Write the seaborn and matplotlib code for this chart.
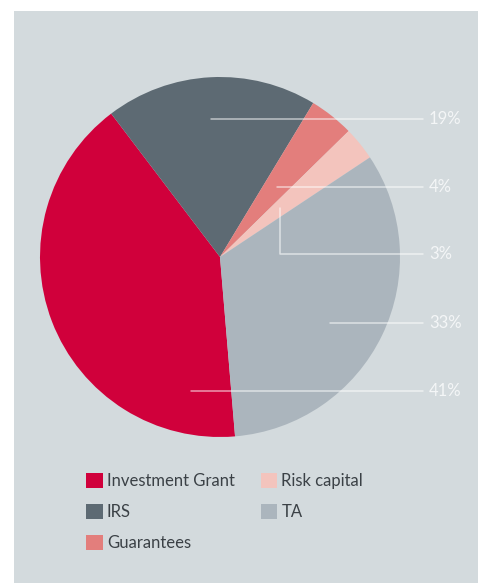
import matplotlib
matplotlib.use("Agg")
import matplotlib.pyplot as plt
from matplotlib.patches import Patch
import seaborn as sns

# Share of funding by instrument (%)
categories = ["Investment Grant", "IRS", "Guarantees", "Risk capital", "TA"]
shares = [41, 19, 4, 3, 33]
colors = ["#d0003b", "#5d6a73", "#e37e7c", "#f3c4bd", "#abb5bd"]

sns.set_theme(style="white")
plt.rcParams["font.family"] = ["Lato", "DejaVu Sans"]

W, H = 478, 583
fig = plt.figure(figsize=(W / 100, H / 100), dpi=100)
fig.patch.set_facecolor("white")

# Grey panel behind everything
bg = fig.add_axes([14 / W, 0, 1 - 14 / W, 1 - 11 / H], zorder=-10)
bg.set_facecolor("#d3dadd")
bg.set_xticks([])
bg.set_yticks([])
for s in bg.spines.values():
    s.set_visible(False)

# Pie axes: centre (220, 257) px, radius 180 px
cx, cy, r = 220, 257, 180
ax = fig.add_axes([(cx - r) / W, (H - cy - r) / H, 2 * r / W, 2 * r / H], zorder=1)
ax.set_facecolor("none")
palette = sns.color_palette(colors)
wedges, _ = ax.pie(shares, colors=palette, startangle=274.8, counterclock=False,
                   radius=1, wedgeprops=dict(linewidth=0))
ax.set_xlim(-1, 1)
ax.set_ylim(-1, 1)
ax.set_aspect("equal")
ax.axis("off")

# Leader lines and percentage labels (pixel layout, top-left origin)
line_end_x = 423
leaders = [
    (shares[1], [(211, 118.5), (line_end_x, 118.5)]),
    (shares[2], [(277, 186.5), (line_end_x, 186.5)]),
    (shares[3], [(280, 208), (280, 254), (line_end_x, 254)]),
    (shares[4], [(330, 322.5), (line_end_x, 322.5)]),
    (shares[0], [(191, 390.5), (line_end_x, 390.5)]),
]
for value, pts in leaders:
    xs = [p[0] / W for p in pts]
    ys = [1 - p[1] / H for p in pts]
    fig.add_artist(plt.Line2D(xs, ys, transform=fig.transFigure, color="white",
                              alpha=0.6, linewidth=1.1, zorder=5))
    fig.text((line_end_x + 6) / W, 1 - pts[-1][1] / H, f"{value}%", color="#f4f6f7",
             fontsize=12, va="center", ha="left", zorder=6)

# Legend
handles = [Patch(facecolor=c, edgecolor="none", label=l) for c, l in zip(colors, categories)]
fig.legend(handles=handles, ncol=2, loc="upper left",
           bbox_to_anchor=(86 / W, 1 - 473 / H), bbox_transform=fig.transFigure,
           frameon=False, fontsize=12, labelcolor="#3b4146",
           handlelength=1.0, handleheight=1.0, handletextpad=0.25,
           columnspacing=1.55, labelspacing=0.88, borderpad=0, borderaxespad=0)

fig.savefig("out.png", dpi=100, facecolor=fig.get_facecolor())
